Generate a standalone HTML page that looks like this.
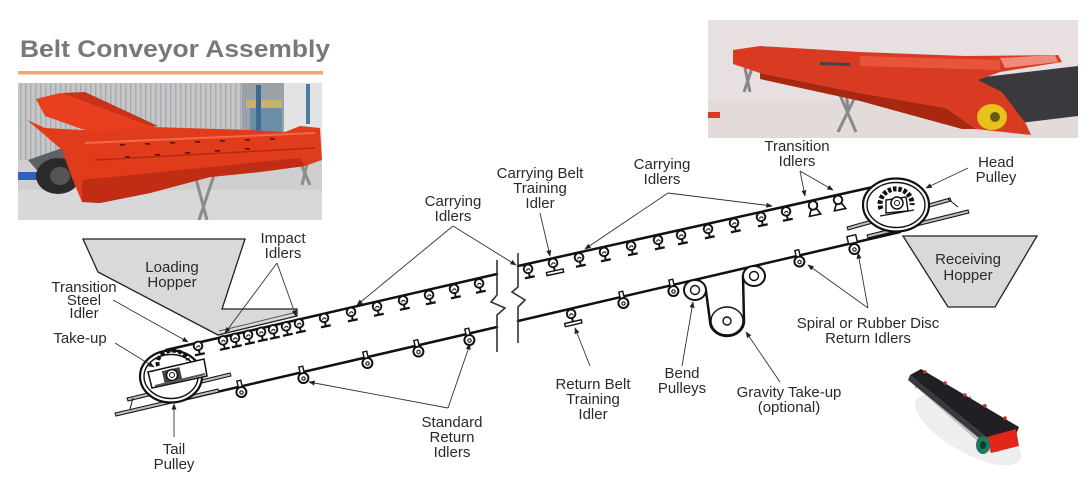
<!DOCTYPE html>
<html><head><meta charset="utf-8"><style>
html,body{margin:0;padding:0;background:#fff;}
body{width:1089px;height:504px;overflow:hidden;}
svg{display:block;}
text{font-family:"Liberation Sans",sans-serif;}
.lb{font-size:15px;fill:#2a2a2a;text-anchor:middle;}
</style></head><body>
<svg width="1089" height="504" viewBox="0 0 1089 504" xmlns="http://www.w3.org/2000/svg">
<defs>
<marker id="ah" viewBox="0 0 10 10" refX="9" refY="5" markerWidth="7" markerHeight="7" orient="auto-start-reverse">
<path d="M0,1 L10,5 L0,9 z" fill="#222"/></marker>
<pattern id="stripe" width="5" height="10" patternUnits="userSpaceOnUse">
<rect width="5" height="10" fill="#c4c6c8"/><rect width="1.4" height="10" fill="#a9abae"/></pattern>
<g id="ci"><circle cx="0" cy="5" r="4.3" fill="#fff" stroke="#111" stroke-width="1.9"/><path d="M-1.7,6.7 a1.7,1.7 0 0 1 3.4,0" fill="none" stroke="#111" stroke-width="1.1"/><line x1="0" y1="9.3" x2="0" y2="13" stroke="#111" stroke-width="1.9"/><line x1="-5" y1="13.6" x2="5" y2="13.6" stroke="#111" stroke-width="2.2"/></g>
<g id="ti"><circle cx="0" cy="5" r="4.3" fill="#fff" stroke="#111" stroke-width="1.9"/><path d="M-1.7,6.7 a1.7,1.7 0 0 1 3.4,0" fill="none" stroke="#111" stroke-width="1.1"/><line x1="0" y1="9.3" x2="0" y2="13" stroke="#111" stroke-width="1.9"/><rect x="-8.5" y="13" width="17" height="3.2" fill="#fff" stroke="#111" stroke-width="1.4"/></g>
<g id="tri"><circle cx="0" cy="5" r="4.3" fill="#fff" stroke="#111" stroke-width="1.9"/><path d="M-3,9.3 L3,9.3 L5.8,15 L-5.8,15 z" fill="#fff" stroke="#111" stroke-width="1.6"/></g>
<g id="ri"><rect x="-2" y="-5.5" width="4" height="8.5" fill="#fff" stroke="#111" stroke-width="1.4"/><circle cx="0" cy="6.2" r="5" fill="#fff" stroke="#111" stroke-width="2"/><circle cx="0" cy="6.7" r="1.7" fill="none" stroke="#111" stroke-width="1.1"/></g>
<g id="rb"><rect x="-4.5" y="-7.5" width="9" height="7.5" fill="#fff" stroke="#111" stroke-width="1.4"/><circle cx="0" cy="6.2" r="5" fill="#fff" stroke="#111" stroke-width="2"/><circle cx="0" cy="6.7" r="1.7" fill="none" stroke="#111" stroke-width="1.1"/></g>
<clipPath id="cl1"><rect x="18" y="83" width="304" height="137"/></clipPath>
<clipPath id="cl2"><rect x="708" y="20" width="370" height="118"/></clipPath>
</defs>

<!-- Title -->
<text x="20" y="57" font-size="24" font-weight="bold" fill="#787878" textLength="310" lengthAdjust="spacingAndGlyphs">Belt Conveyor Assembly</text>
<rect x="18" y="71" width="305" height="3.5" fill="#f3a672"/>

<!-- Left photo -->
<g clip-path="url(#cl1)">
<rect x="18" y="83" width="304" height="137" fill="#d0d0d0"/>
<rect x="18" y="83" width="225" height="85" fill="url(#stripe)"/>
<rect x="242" y="83" width="42" height="85" fill="#9aa2a8"/>
<rect x="246" y="100" width="36" height="8" fill="#c9b36a"/>
<rect x="250" y="108" width="32" height="55" fill="#6a8fa6"/>
<rect x="256" y="85" width="5" height="80" fill="#3d6a90"/>
<rect x="284" y="83" width="38" height="85" fill="#e2e3e4"/>
<rect x="306" y="84" width="4" height="40" fill="#4f7aa0"/>
<rect x="18" y="160" width="304" height="60" fill="#cfcfcf"/>
<rect x="18" y="190" width="304" height="30" fill="#d8d8d8"/>
<rect x="18" y="172" width="30" height="8" fill="#2f5fc0"/>
<path d="M195,175 L207,220 M214,175 L199,220 M300,162 L310,185 M308,160 L302,185" stroke="#8c8c8c" stroke-width="3"/>
<path d="M28,160 L68,146 L88,160 L48,183 z" fill="#5d6066"/>
<ellipse cx="58" cy="176" rx="22" ry="18" fill="#2a2a2a"/>
<ellipse cx="60" cy="176" rx="10" ry="9" fill="#555"/>
<path d="M36,99 L60,93 L78,96 L152,127 L96,134 L45,116 z" fill="#e8401e"/>
<path d="M62,93 L85,92 L158,126 L152,127 z" fill="#c8321a"/>
<path d="M27,120 L45,128 L100,131 L152,127 L250,130 L285,132 L300,126 L320,128 L322,160 L305,166 L260,172 L210,177 L150,193 L100,203 L82,202 L72,178 L62,150 L40,131 z" fill="#e03b1b"/>
<path d="M82,180 L300,158 L305,166 L260,172 L210,177 L150,193 L100,203 L82,202 z" fill="#c02c14"/>
<path d="M85,143 L315,133" stroke="#f26a48" stroke-width="2"/>
<path d="M95,160 L315,148" stroke="#b52812" stroke-width="1.5"/>
<g fill="#5a1508">
<rect x="120" y="144" width="5" height="1.6"/><rect x="145" y="143" width="5" height="1.6"/><rect x="170" y="142" width="5" height="1.6"/><rect x="195" y="141" width="5" height="1.6"/><rect x="220" y="140" width="5" height="1.6"/><rect x="245" y="139" width="5" height="1.6"/><rect x="270" y="138" width="5" height="1.6"/>
<rect x="125" y="156" width="5" height="1.6"/><rect x="155" y="154" width="5" height="1.6"/><rect x="185" y="152" width="5" height="1.6"/><rect x="215" y="150" width="5" height="1.6"/><rect x="245" y="148" width="5" height="1.6"/>
</g>
</g>

<!-- Right photo -->
<g clip-path="url(#cl2)">
<rect x="708" y="20" width="370" height="118" fill="#e8e0e0"/>
<rect x="708" y="100" width="370" height="38" fill="#e3dada"/>
<path d="M745,68 L750,92 M752,68 L744,92" stroke="#888" stroke-width="3"/>
<path d="M840,95 L856,132 M856,95 L838,132 M846,90 L848,110" stroke="#8a8a8a" stroke-width="3"/>
<path d="M975,78 L1078,66 L1078,116 L1012,124 L995,100 z" fill="#3a3a3e"/>
<path d="M733,50 L760,46 L860,52 L965,56 L1058,55 L1062,62 L1000,72 L978,80 L1002,92 L1026,124 L1031,135 L976,129 L946,108 L860,93 L760,73 L733,64 z" fill="#d93a22"/>
<path d="M760,73 L860,93 L946,108 L976,129 L962,129 L860,101 L760,79 z" fill="#a8280f"/>
<path d="M860,56 L1000,60 L1000,70 L860,66 z" fill="#e8543a"/>
<path d="M1000,58 L1055,55 L1058,62 L1005,68 z" fill="#f08a7a"/>
<path d="M820,62 L850,63 L850,66 L820,65 z" fill="#444"/>
<ellipse cx="992" cy="117" rx="15" ry="13" fill="#e6c21a"/>
<ellipse cx="995" cy="117" rx="5" ry="5" fill="#6a5a10"/>
<rect x="708" y="112" width="12" height="6" fill="#d93a22"/>
</g>

<!-- Bottom right conveyor image -->
<g>
<ellipse cx="968" cy="430" rx="60" ry="22" fill="#eeeeee" transform="rotate(30 968 430)"/>
<path d="M908,380 L990,452 L1000,452 L918,378 z" fill="#bfbfbf"/>
<path d="M915,388 L925,380 L930,392 L940,384 L945,398 L955,390 L960,405 L970,397 L975,412 L985,404" stroke="#9a9a9a" stroke-width="1.5" fill="none"/>
<path d="M910,375 L921,369 L1019,427 L1014,440 L992,442 z" fill="#202024"/>
<path d="M910,375 L992,442 L990,447 L908,380 z" fill="#3a3a3e"/>
<path d="M987,437 L1016,429 L1019,446 L991,453 z" fill="#e3261c"/>
<ellipse cx="983" cy="445" rx="7" ry="9" fill="#1e7a5a"/>
<ellipse cx="983" cy="445" rx="3" ry="4" fill="#0d3d2d"/>
<g fill="#c8301c"><circle cx="925" cy="372" r="1.8"/><circle cx="945" cy="383" r="1.8"/><circle cx="965" cy="395" r="1.8"/><circle cx="985" cy="406" r="1.8"/><circle cx="1005" cy="418" r="1.8"/></g>
</g>

<!-- Hoppers -->
<path d="M83,239 L245,239 L222,309 L297,309 L297,316 L218,335 L98,272 z" fill="#d9d9d9" stroke="#222" stroke-width="1.3"/>
<path d="M219,331 L297,312" stroke="#555" stroke-width="1"/>
<path d="M903,236 L1037,236 L995,307 L948,307 z" fill="#d9d9d9" stroke="#222" stroke-width="1.3"/>

<!-- Belt lines -->
<g stroke="#111" stroke-width="2.5" fill="none" stroke-linecap="round">
<path d="M166,350 L497,274"/>
<path d="M178,401 L497,327"/>
<path d="M518,266 L873,187"/>
<path d="M518,321 L900,232"/>
<path d="M706,291 L710,321 A17,15 0 0 0 744,321 L743,276"/>
</g>

<!-- Break lines -->
<g stroke="#333" stroke-width="1.6" fill="none">
<path d="M497,260 L497,295 L491,302 L505,308 L497,315 L497,352"/>
<path d="M518,253 L518,287 L512,292 L525,300 L518,307 L518,343"/>
</g>

<!-- Tail pulley -->
<g stroke="#111" fill="none">
<path d="M115,413 L218,389 L219,392 L116,416 z" fill="#bbb" stroke-width="1"/>
<path d="M127,398 L230,373 L231,376 L128,401 z" fill="#bbb" stroke-width="1"/>
<path d="M130,409 L133,398" stroke-width="1"/>
<ellipse cx="171" cy="376.5" rx="31" ry="26" fill="#fff" stroke-width="2.2"/>
<ellipse cx="171" cy="376.5" rx="27" ry="22" stroke-width="1.4"/>
<path d="M148,372 L204,359 L207,376 L152,388 z" fill="#fff" stroke-width="1.5"/>
<path d="M158,366 A15,12 0 0 1 188,360" stroke-width="4" stroke-dasharray="4 2"/>
<rect x="163" y="369" width="18" height="13" fill="#444" stroke="none" transform="rotate(-13 172 375)"/>
<circle cx="172" cy="375" r="5.5" fill="#fff" stroke-width="1.4"/>
<circle cx="172" cy="375" r="2.5" stroke-width="1"/>
<path d="M155,386 L205,374" stroke="#555" stroke-width="2"/>
</g>

<!-- Head pulley -->
<g stroke="#111" fill="none">
<path d="M847,227 L950,198 L951,201 L848,230 z" fill="#bbb" stroke-width="1"/>
<path d="M867,235 L968,210 L969,213 L868,238 z" fill="#bbb" stroke-width="1"/>
<path d="M948,199 L958,207" stroke-width="1"/>
<ellipse cx="896" cy="205" rx="33" ry="26.5" fill="#fff" stroke-width="2.2"/>
<ellipse cx="896" cy="205" rx="29" ry="22.5" stroke-width="1.4"/>
<path d="M881,209 A16,15 0 1 1 912,205" stroke-width="5" stroke-dasharray="3.5 1.8"/>
<path d="M886,213 L886,200 L906,197 L908,211 z" fill="#fff" stroke-width="1.4"/>
<circle cx="897" cy="203" r="6" fill="#fff" stroke-width="1.5"/>
<circle cx="897" cy="203" r="2.5" stroke-width="1"/>
<path d="M880,216 L914,210" stroke-width="1.3"/>
</g>

<!-- Bend & gravity pulleys -->
<g stroke="#111" fill="#fff">
<ellipse cx="695" cy="290" rx="11" ry="10" stroke-width="2"/>
<circle cx="695" cy="290" r="4.5" stroke-width="1.4"/>
<ellipse cx="754" cy="276" rx="11" ry="10" stroke-width="2"/>
<circle cx="754" cy="276" r="4.5" stroke-width="1.4"/>
<ellipse cx="727" cy="321" rx="16" ry="14" stroke-width="1.4"/>
<circle cx="727" cy="321" r="4" stroke-width="1.4"/>
</g>

<!-- Carrying idlers left segment -->
<g>
<use href="#ci" transform="translate(197,341) rotate(-12)"/>
<use href="#ci" transform="translate(222,335.5) rotate(-12)"/>
<use href="#ci" transform="translate(234,333) rotate(-12)"/>
<use href="#ci" transform="translate(247,330) rotate(-12)"/>
<use href="#ci" transform="translate(260,327) rotate(-12)"/>
<use href="#ci" transform="translate(272,324.5) rotate(-12)"/>
<use href="#ci" transform="translate(285,321.5) rotate(-12)"/>
<use href="#ci" transform="translate(298,318.5) rotate(-12)"/>
<use href="#ci" transform="translate(323,313) rotate(-12)"/>
<use href="#ci" transform="translate(350,307) rotate(-12)"/>
<use href="#ci" transform="translate(376,301.5) rotate(-12)"/>
<use href="#ci" transform="translate(402,295.5) rotate(-12)"/>
<use href="#ci" transform="translate(428,290) rotate(-12)"/>
<use href="#ci" transform="translate(453,284) rotate(-12)"/>
<use href="#ci" transform="translate(478,278.5) rotate(-12)"/>
</g>
<!-- Carrying idlers right segment -->
<g>
<use href="#ci" transform="translate(527,264) rotate(-12)"/>
<use href="#ti" transform="translate(552,258) rotate(-12)"/>
<use href="#ci" transform="translate(578,252.5) rotate(-12)"/>
<use href="#ci" transform="translate(603,247) rotate(-12)"/>
<use href="#ci" transform="translate(630,241) rotate(-12)"/>
<use href="#ci" transform="translate(657,235) rotate(-12)"/>
<use href="#ci" transform="translate(680,230) rotate(-12)"/>
<use href="#ci" transform="translate(707,224) rotate(-12)"/>
<use href="#ci" transform="translate(733,218) rotate(-12)"/>
<use href="#ci" transform="translate(760,212) rotate(-12)"/>
<use href="#ci" transform="translate(785,206.5) rotate(-12)"/>
<use href="#tri" transform="translate(812,200.5) rotate(-12)"/>
<use href="#tri" transform="translate(837,195) rotate(-12)"/>
</g>
<!-- Return idlers -->
<g>
<use href="#ri" transform="translate(240,386) rotate(-13)"/>
<use href="#ri" transform="translate(302,372) rotate(-13)"/>
<use href="#ri" transform="translate(366,357) rotate(-13)"/>
<use href="#ri" transform="translate(417,345.5) rotate(-13)"/>
<use href="#ri" transform="translate(468,334) rotate(-13)"/>
<use href="#ti" transform="translate(570,309) rotate(-13)"/>
<use href="#ri" transform="translate(622,297) rotate(-13)"/>
<use href="#ri" transform="translate(672,285) rotate(-13)"/>
<use href="#ri" transform="translate(798,255.5) rotate(-13)"/>
<use href="#rb" transform="translate(853,243) rotate(-13)"/>
</g>

<!-- Leader lines -->
<g stroke="#333" stroke-width="0.9" fill="none" marker-end="url(#ah)">
<path d="M113,300 L188,342"/>
<path d="M115,343 L154,367"/>
<path d="M277,263 L225,333"/>
<path d="M277,263 L296,316"/>
<path d="M174,437 L174,404"/>
<path d="M453,226 L357,305"/>
<path d="M453,226 L516,265"/>
<path d="M540,213 L550,256"/>
<path d="M668,193 L585,249"/>
<path d="M668,193 L772,206"/>
<path d="M800,171 L805,196"/>
<path d="M800,171 L833,190"/>
<path d="M968,168 L926,188"/>
<path d="M868,308 L808,265"/>
<path d="M868,308 L858,253"/>
<path d="M590,366 L575,328"/>
<path d="M682,366 L693,302"/>
<path d="M780,382 L746,332"/>
<path d="M448,408 L470,344"/>
<path d="M448,408 L309,382"/>
</g>

<!-- Labels -->
<text class="lb" x="84" y="292">Transition</text>
<text class="lb" x="84" y="305">Steel</text>
<text class="lb" x="84" y="318">Idler</text>
<text class="lb" x="80" y="343">Take-up</text>
<text class="lb" x="172" y="272">Loading</text>
<text class="lb" x="172" y="287">Hopper</text>
<text class="lb" x="283" y="243">Impact</text>
<text class="lb" x="283" y="258">Idlers</text>
<text class="lb" x="174" y="454">Tail</text>
<text class="lb" x="174" y="469">Pulley</text>
<text class="lb" x="453" y="206">Carrying</text>
<text class="lb" x="453" y="221">Idlers</text>
<text class="lb" x="540" y="178">Carrying Belt</text>
<text class="lb" x="540" y="193">Training</text>
<text class="lb" x="540" y="208">Idler</text>
<text class="lb" x="662" y="169">Carrying</text>
<text class="lb" x="662" y="184">Idlers</text>
<text class="lb" x="797" y="151">Transition</text>
<text class="lb" x="797" y="166">Idlers</text>
<text class="lb" x="996" y="167">Head</text>
<text class="lb" x="996" y="182">Pulley</text>
<text class="lb" x="968" y="264">Receiving</text>
<text class="lb" x="968" y="280">Hopper</text>
<text class="lb" x="868" y="328">Spiral or Rubber Disc</text>
<text class="lb" x="868" y="343">Return Idlers</text>
<text class="lb" x="593" y="389">Return Belt</text>
<text class="lb" x="593" y="404">Training</text>
<text class="lb" x="593" y="419">Idler</text>
<text class="lb" x="682" y="378">Bend</text>
<text class="lb" x="682" y="393">Pulleys</text>
<text class="lb" x="789" y="397">Gravity Take-up</text>
<text class="lb" x="789" y="412">(optional)</text>
<text class="lb" x="452" y="427">Standard</text>
<text class="lb" x="452" y="442">Return</text>
<text class="lb" x="452" y="457">Idlers</text>
</svg>
</body></html>
